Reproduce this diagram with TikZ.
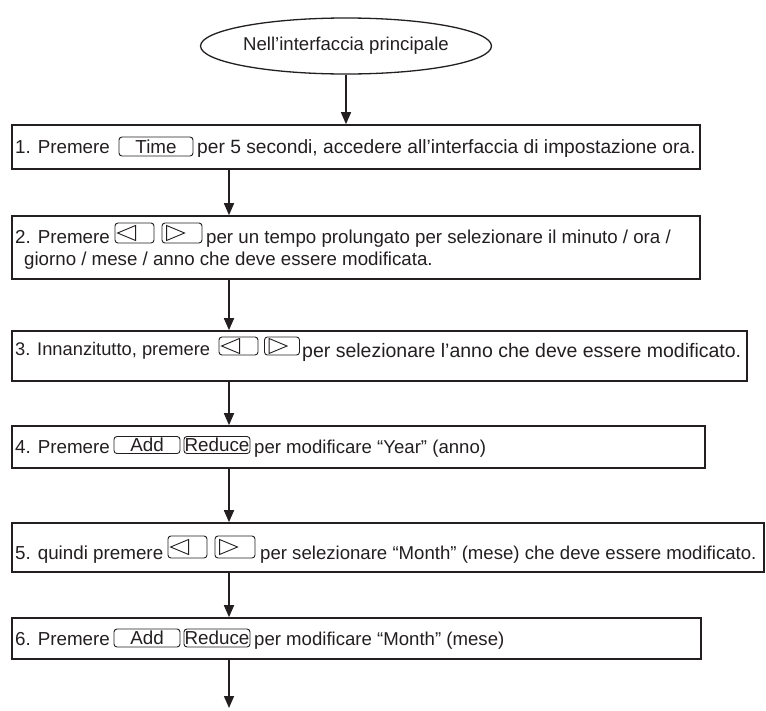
\documentclass[tikz,border=0pt]{standalone}
\usepackage{fontspec}
\setmainfont{Liberation Sans}
\usetikzlibrary{arrows.meta,shapes.geometric,calc}
\definecolor{ink}{HTML}{231F20}
\newcommand{\fs}[1]{\fontsize{#1}{23}\selectfont}
\begin{document}
\begin{tikzpicture}[x=1pt,y=-1pt,
  every node/.style={font=\fs{18.8}, text=ink},
  txt/.style={anchor=base west, inner sep=0pt},
  stepbox/.style={draw=ink, line width=1.6pt, rectangle, inner sep=0pt},
  key/.style={draw=ink, line width=0.9pt, rounded corners=3pt, inner sep=0pt},
  arr/.style={draw=ink, line width=1.5pt, -{Triangle[length=12pt,width=10pt]}}]
\useasboundingbox (0,0) rectangle (766,710);
\newcommand{\lefttri}[1]{\draw[ink, line width=0.9pt, line join=miter] ($(#1.west)+(3,0)$) -- ($(#1.west)+(21,-7.5)$) -- ($(#1.west)+(21,7.5)$) -- cycle;}
\newcommand{\righttri}[1]{\draw[ink, line width=0.9pt, line join=miter] ($(#1.west)+(23,0)$) -- ($(#1.west)+(5,-7.5)$) -- ($(#1.west)+(5,7.5)$) -- cycle;}

% start ellipse
\node[draw=ink, ellipse, line width=1.3pt, minimum width=250pt, minimum height=56pt, inner sep=0pt, font=\fs{18.6}] (start) at (346,46) {Nell’interfaccia principale};

% step boxes
\node[stepbox, minimum width=688pt, minimum height=44pt] (b1) at (356,147) {};
\node[stepbox, minimum width=688pt, minimum height=63pt] (b2) at (356,247.5) {};
\node[stepbox, minimum width=735pt, minimum height=50pt] (b3) at (379.5,356) {};
\node[stepbox, minimum width=693pt, minimum height=42pt] (b4) at (358.5,447) {};
\node[stepbox, minimum width=752pt, minimum height=49pt] (b5) at (388,547.5) {};
\node[stepbox, minimum width=689pt, minimum height=41pt] (b6) at (356.5,638.5) {};

\coordinate (ax) at (229,0);
\coordinate (end) at (229,708);

% box 1
\node[txt] (t1a) at (15,153) {1. Premere};
\node[key, minimum width=74pt, minimum height=19pt] (k1) at (156,146.5) {Time};
\node[txt, font=\fs{19.2}] (t1b) at (197,153) {per 5 secondi, accedere all’interfaccia di impostazione ora.};

% box 2
\node[txt] (t2a) at (15,243) {2. Premere};
\node[key, minimum width=39pt, minimum height=20pt] (k2l) at (134.5,233) {};
\node[key, minimum width=40pt, minimum height=20pt] (k2r) at (182,233) {};
\lefttri{k2l}
\righttri{k2r}
\node[txt, font=\fs{18.7}] (t2b) at (206,243) {per un tempo prolungato per selezionare il minuto / ora /};
\node[txt, font=\fs{18.7}] (t2c) at (24,265) {giorno / mese / anno che deve essere modificata.};

% box 3
\node[txt, font=\fs{18.3}] (t3a) at (15,355) {3. Innanzitutto, premere};
\node[key, minimum width=39pt, minimum height=18pt] (k3l) at (238.5,346) {};
\node[key, minimum width=35pt, minimum height=18pt] (k3r) at (282,346) {};
\lefttri{k3l}
\righttri{k3r}
\node[txt, font=\fs{19.5}] (t3b) at (302,357) {per selezionare l’anno che deve essere modificato.};

% box 4
\node[txt] (t4a) at (15,453) {4. Premere};
\node[key, minimum width=66pt, minimum height=17pt] (k4a) at (147,445) {Add};
\node[key, minimum width=66pt, minimum height=17pt] (k4r) at (217,445) {Reduce};
\node[txt, font=\fs{18.6}] (t4b) at (254,453) {per modificare “Year” (anno)};

% box 5
\node[txt] (t5a) at (15,559) {5. quindi premere};
\node[key, minimum width=39pt, minimum height=22pt] (k5l) at (187.5,547) {};
\node[key, minimum width=40pt, minimum height=22pt] (k5r) at (235,547) {};
\lefttri{k5l}
\righttri{k5r}
\node[txt, font=\fs{18.6}] (t5b) at (260,559) {per selezionare “Month” (mese) che deve essere modificato.};

% box 6
\node[txt] (t6a) at (15,645) {6. Premere};
\node[key, minimum width=66pt, minimum height=18pt] (k6a) at (147,638) {Add};
\node[key, minimum width=66pt, minimum height=18pt] (k6r) at (217,638) {Reduce};
\node[txt, font=\fs{18.6}] (t6b) at (254,645) {per modificare “Month” (mese)};

% connectors
\draw[arr] (start.south) -- (b1.north -| start.south);
\draw[arr] (b1.south -| ax) -- (b2.north -| ax);
\draw[arr] (b2.south -| ax) -- (b3.north -| ax);
\draw[arr] (b3.south -| ax) -- (b4.north -| ax);
\draw[arr] (b4.south -| ax) -- (b5.north -| ax);
\draw[arr] (b5.south -| ax) -- (b6.north -| ax);
\draw[arr] (b6.south -| ax) -- (end);
\end{tikzpicture}
\end{document}
